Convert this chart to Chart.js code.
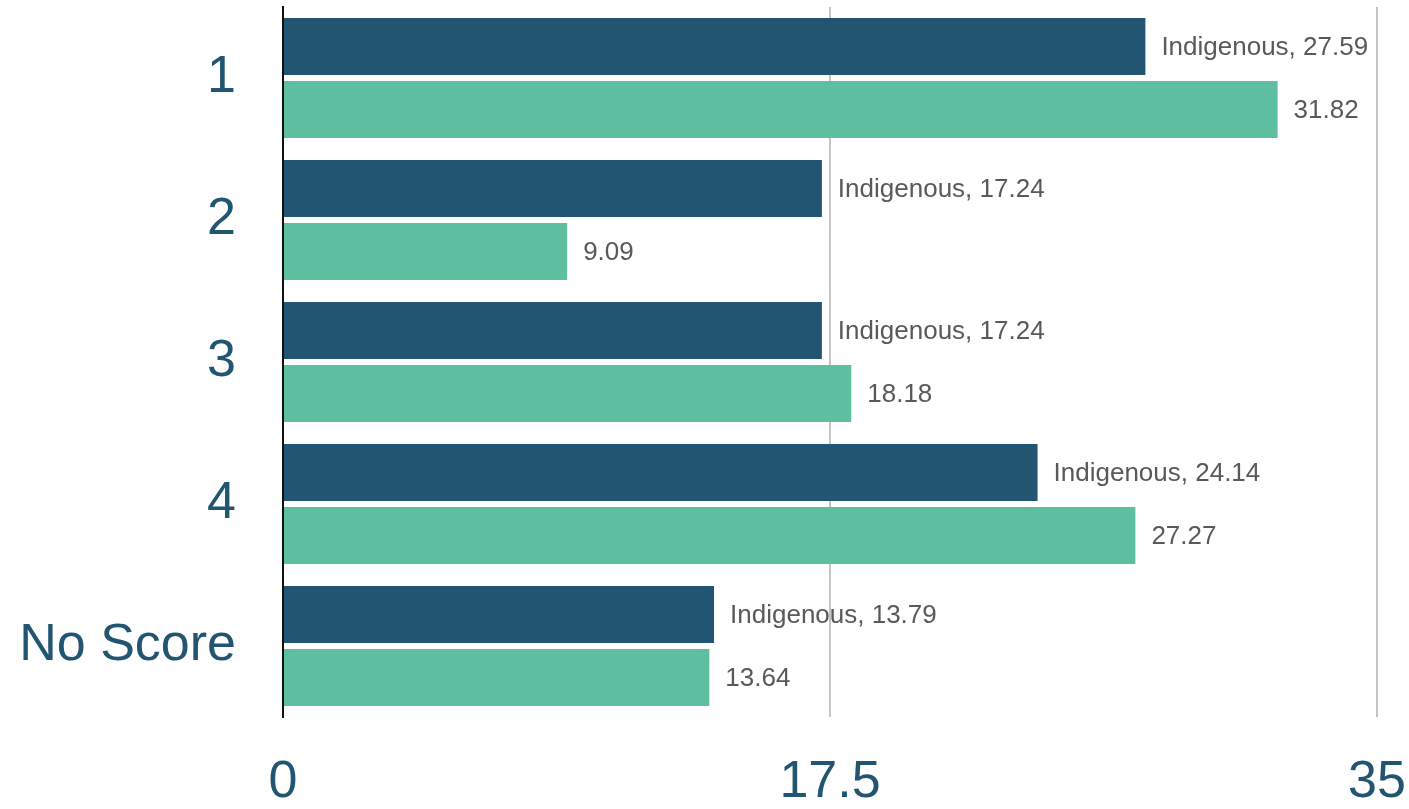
<!DOCTYPE html>
<html>
<head>
<meta charset="utf-8">
<script src="https://cdn.jsdelivr.net/npm/chart.js@4/dist/chart.umd.min.js"></script>
<style>
  html, body { margin: 0; padding: 0; background: #fff; }
  #wrap { width: 1409px; height: 809px; }
</style>
</head>
<body>
<div id="wrap"><canvas id="myChart"></canvas></div>
<script>
const categories = ['1', '2', '3', '4', 'No Score'];
const indigenous = [27.59, 17.24, 17.24, 24.14, 13.79];
const other = [31.82, 9.09, 18.18, 27.27, 13.64];
const xTicks = [0, 17.5, 35];

const darkBlue = '#225571';
const green = '#5dbf9f';

// value labels at the end of each bar
const barLabels = {
  id: 'barLabels',
  afterDatasetsDraw(chart) {
    const c = chart.ctx;
    c.save();
    c.font = '26px "Liberation Sans", Arial, sans-serif';
    c.fillStyle = '#595959';
    c.textAlign = 'left';
    c.textBaseline = 'middle';
    chart.data.datasets.forEach((ds, i) => {
      chart.getDatasetMeta(i).data.forEach((bar, j) => {
        const txt = (i === 0 ? ds.label + ', ' : '') + ds.data[j].toFixed(2);
        c.fillText(txt, bar.x + 16, bar.y + 1);
      });
    });
    c.restore();
  }
};

function noPad(scale) {
  scale.paddingTop = 0; scale.paddingBottom = 0;
  scale.paddingLeft = 0; scale.paddingRight = 0;
}

const ctx = document.getElementById('myChart').getContext('2d');
new Chart(ctx, {
  type: 'bar',
  data: {
    labels: categories,
    datasets: [
      { label: 'Indigenous', data: indigenous, backgroundColor: darkBlue,
        categoryPercentage: 0.887, barPercentage: 0.905 },
      { label: 'Non-Indigenous', data: other, backgroundColor: green,
        categoryPercentage: 0.887, barPercentage: 0.905 }
    ]
  },
  options: {
    indexAxis: 'y',
    responsive: true,
    maintainAspectRatio: false,
    animation: false,
    layout: { padding: { top: 7, right: 32, left: 0, bottom: 0 } },
    plugins: { legend: { display: false }, tooltip: { enabled: false } },
    scales: {
      x: {
        min: 0, max: 35,
        afterBuildTicks(scale) { scale.ticks = xTicks.map(v => ({ value: v })); },
        afterFit(scale) { scale.height = 92; noPad(scale); },
        border: { display: false },
        grid: {
          drawTicks: false,
          lineWidth: 2,
          color: c => c.tick && c.tick.value === 0 ? 'rgba(0,0,0,0)' : '#c4c4c4'
        },
        ticks: {
          padding: 34,
          maxRotation: 0,
          color: darkBlue,
          font: { family: '"Liberation Sans", Arial, sans-serif', size: 52 },
          callback: v => String(v)
        }
      },
      y: {
        afterFit(scale) { scale.width = 283; noPad(scale); },
        border: { display: true, color: '#111', width: 2 },
        grid: { display: false, drawTicks: false },
        ticks: {
          padding: 47,
          color: darkBlue,
          font: { family: '"Liberation Sans", Arial, sans-serif', size: 52 }
        }
      }
    }
  },
  plugins: [barLabels]
});
</script>
</body>
</html>
